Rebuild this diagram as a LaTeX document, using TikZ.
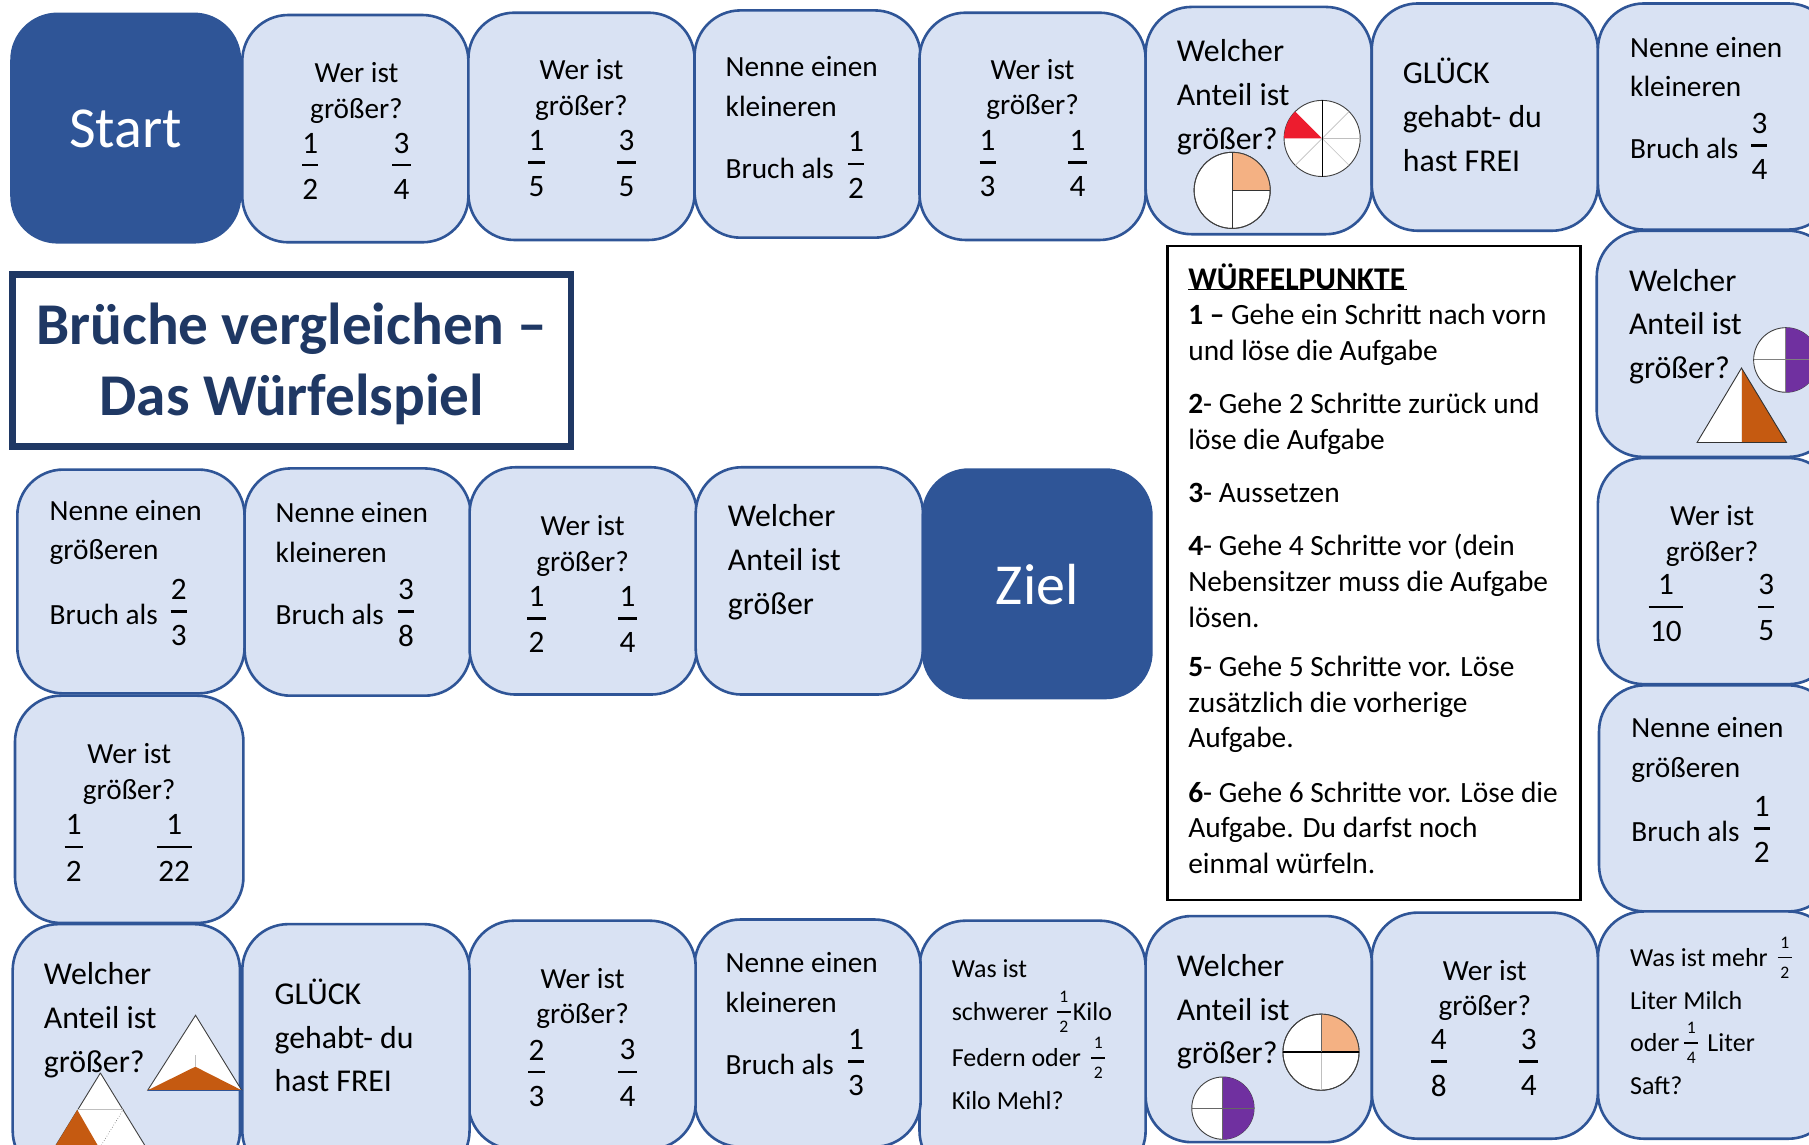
\documentclass[tikz,border=0pt]{standalone}
\usepackage{fontspec}
\setmainfont{Carlito}
\definecolor{tilefill}{HTML}{D9E2F3}
\definecolor{tileedge}{HTML}{2F5597}
\definecolor{navy}{HTML}{1F3864}
\definecolor{pieorange}{HTML}{F4B183}
\definecolor{triorange}{HTML}{C55A11}
\definecolor{piepurple}{HTML}{7030A0}
\definecolor{piered}{HTML}{ED1C2E}
\definecolor{spoke}{HTML}{BFBFBF}
\tikzset{
  x=0.5768pt,y=-0.5768pt,
  tilebox/.style={draw=tileedge,fill=tilefill,line width=1.3pt,rounded corners=23pt},
  darkbox/.style={draw=tileedge,fill=tileedge,line width=1.3pt,rounded corners=23pt},
  txt/.style={inner sep=0pt,outer sep=0pt,text=black},
  leftblock/.style={txt,anchor=west,align=left},
  midblock/.style={txt,anchor=center,align=center},
  piedisc/.style={draw=black!75,fill=white,line width=0.45pt},
  tridisc/.style={draw=black!75,fill=white,line width=0.45pt},
}
\newcommand{\fsM}{\fontsize{14.65pt}{19.8pt}\selectfont}% Nenne
\newcommand{\fsL}{\fontsize{15.9pt}{21.9pt}\selectfont}% Welcher, GLUECK
\newcommand{\fsW}{\fontsize{14.6pt}{17.9pt}\selectfont}% Wer ist
\newcommand{\fsS}{\fontsize{13pt}{21.3pt}\selectfont}% Was ist
\newcommand{\fsD}{\fontsize{14.7pt}{17.9pt}\selectfont}% dice list
\newcounter{fc}
% \frc{x}{bar y}{half gap}{bar half width}{num}{den}
\newcommand{\frc}[6]{\stepcounter{fc}%
  \node[txt,font=\bfseries\fontsize{15.6pt}{16pt}\mdseries\selectfont] (fn\thefc) at (#1,#2-#3+1) {#5};
  \node[txt,font=\fontsize{15.6pt}{16pt}\selectfont] (fd\thefc) at (#1,#2+#3+1) {#6};
  \draw[line width=1.3pt] (#1-#4,#2) -- (#1+#4,#2);}
\newcommand{\sfrc}[5]{\stepcounter{fc}%
  \node[txt,font=\fontsize{8.8pt}{9pt}\selectfont] (fn\thefc) at (#1,#2-13) {#4};
  \node[txt,font=\fontsize{8.8pt}{9pt}\selectfont] (fd\thefc) at (#1,#2+13) {#5};
  \draw[line width=0.8pt] (#1-#3,#2) -- (#1+#3,#2);}
\newcommand{\werist}[2]{\node[midblock,font=\fsW] (w\thefc) at (#1,#2+2.5) {Wer ist\\größer?};}
\newcommand{\welcher}[3]{\node[leftblock,font=\fsL] (#1) at (#2,#3+2) {Welcher\\Anteil ist\\größer?};}
\newcommand{\glueck}[3]{\node[leftblock,font=\fsL] (#1) at (#2,#3-1.5) {GLÜCK\\gehabt- du\\hast FREI};}
\newcommand{\nenne}[4]{\node[leftblock,font=\fsM] (#1a) at (#2,#3+1) {Nenne einen\\#4};
  \node[leftblock,font=\fsM] (#1b) at (#2,#3+72) {Bruch als};}
\begin{document}
\begin{tikzpicture}
\useasboundingbox (0,0) rectangle (1568,992.4);
\clip (0,0) rectangle (1568,992.4);
\fill[white] (0,0) rectangle (1568,992.4);
% top row
\draw[darkbox] (10,12) rectangle (208,210);
\foreach \a/\b/\c/\d in {210/13/406/210,406/11/602/208,602/9/798/206,797/11/993/208,993/6/1189/203,1189/3/1385/200,1385/3/1590/199,
  1384/200/1590/396,1385/397/1590/593,1386/594/1590/790,1385/790/1590/987,
  1189/791/1385/987,993/794/1189/990,797/798/993/1020,602/797/798/994,406/798/603/996,210/801/407/1020,11/801/208/1020,
  13/603/211/800,15/407/212/601,212/406/408/603,407/405/604/602,603/405/800/602}
  \draw[tilebox] (\a,\b) rectangle (\c,\d);
\draw[darkbox] (800,407) rectangle (998,605);
% Start, Ziel
\node[txt,text=white,font=\fontsize{29pt}{30pt}\selectfont] (start) at (109,112) {Start};
\node[txt,text=white,font=\fontsize{29pt}{30pt}\selectfont] (ziel) at (899,507) {Ziel};
% title
\draw[navy,line width=3.3pt,fill=white] (11,238) rectangle (495,387);
\node[midblock,text=navy,font=\fontsize{29.6pt}{35.8pt}\selectfont\bfseries] (title) at (253,315.5) {Brüche vergleichen –\\Das Würfelspiel};
% dice box
\draw[black,line width=1.1pt,fill=white] (1012,213) rectangle (1370,780);
\node[leftblock,font=\fontsize{15.8pt}{17pt}\selectfont\bfseries] (dh) at (1030,239.5) {WÜRFELPUNKTE};
\draw[black,line width=0.8pt] (1030,251) -- (1219.5,251);
\node[leftblock,font=\fsD] (d1) at (1030,290.5) {\textbf{1 –} Gehe ein Schritt nach vorn\\und löse die Aufgabe};
\node[leftblock,font=\fsD] (d2) at (1030,367) {\textbf{2}- Gehe 2 Schritte zurück und\\löse die Aufgabe};
\node[leftblock,font=\fsD] (d3) at (1030,427) {\textbf{3}- Aussetzen};
\node[leftblock,font=\fsD] (d4) at (1030,503.5) {\textbf{4}- Gehe 4 Schritte vor (dein\\Nebensitzer muss die Aufgabe\\lösen.};
\node[leftblock,font=\fsD] (d5) at (1030,610.5) {\textbf{5}- Gehe 5 Schritte vor. Löse\\zusätzlich die vorherige\\Aufgabe.};
\node[leftblock,font=\fsD] (d6) at (1030,717.5) {\textbf{6}- Gehe 6 Schritte vor. Löse die\\Aufgabe. Du darfst noch\\einmal würfeln.};
% top row text
\werist{309}{78}\frc{269}{143}{20}{7}{1}{2}\frc{348}{143}{20}{8}{3}{4}
\werist{504}{75.5}\frc{465}{141}{20}{7}{1}{5}\frc{543}{141}{20}{8}{3}{5}
\nenne{t3}{629}{74}{kleineren}\frc{742}{142}{20}{7}{1}{2}
\werist{895}{75}\frc{856}{141}{20}{7}{1}{3}\frc{934}{141}{20}{8}{1}{4}
\welcher{t5}{1020}{82}
\glueck{t6}{1216}{101}
\nenne{t7}{1413}{57}{kleineren}\frc{1525}{126}{20}{7}{3}{4}
% right column
\welcher{r1}{1412}{281}
\werist{1484}{462}\frc{1444}{526}{20}{15}{1}{10}\frc{1531}{526}{20}{7}{3}{5}
\nenne{r3}{1414}{649}{größeren}\frc{1527}{718}{20}{7}{1}{2}
\node[leftblock,font=\fsS] (r4a) at (1413,830) {Was ist mehr};
\sfrc{1547}{830}{6}{1}{2}
\node[leftblock,font=\fsS] (r4b) at (1413,867) {Liter Milch};
\node[leftblock,font=\fsS] (r4c) at (1413,904) {oder};
\sfrc{1466}{904}{6}{1}{4}
\node[leftblock,font=\fsS] (r4d) at (1480,904) {Liter};
\node[leftblock,font=\fsS] (r4e) at (1413,941) {Saft?};
% bottom row
\werist{1287}{856}\frc{1247}{920}{20}{7}{4}{8}\frc{1325}{920}{20}{8}{3}{4}
\welcher{b6}{1020}{875}
\node[leftblock,font=\fsS] (b5a) at (825,840) {Was ist};
\node[leftblock,font=\fsS] (b5b) at (825,877) {schwerer};
\sfrc{922}{877}{6}{1}{2}
\node[leftblock,font=\fsS] (b5c) at (930,877) {Kilo};
\node[leftblock,font=\fsS] (b5d) at (825,917) {Federn oder};
\sfrc{952}{917}{6}{1}{2}
\node[leftblock,font=\fsS] (b5e) at (825,954) {Kilo Mehl?};
\nenne{b4}{629}{850.5}{kleineren}\frc{742}{920}{20}{7}{1}{3}
\werist{505}{863}\frc{465}{929}{20}{7}{2}{3}\frc{544}{929}{20}{8}{3}{4}
\glueck{b2}{238}{899}
\welcher{b1}{38}{882}
% left and middle
\werist{112}{668}\frc{64}{734}{20}{8}{1}{2}\frc{151}{734}{20}{15}{1}{22}
\nenne{m1}{43}{460.5}{größeren}\frc{155}{530}{20}{7}{2}{3}
\nenne{m2}{239}{460.5}{kleineren}\frc{352}{530}{20}{7}{3}{8}
\werist{505}{470.5}\frc{465}{536}{20}{8}{1}{2}\frc{544}{536}{20}{8}{1}{4}
\node[leftblock,font=\fsL] (m4) at (631,487.5) {Welcher\\Anteil ist\\größer};
% red pie
\draw[piedisc] (1146,120) circle (33);
\fill[piered] (1146,120) -- (1113,120) arc[start angle=180,end angle=135,x radius=33,y radius=-33] -- cycle;
\draw[spoke,line width=0.3pt] (1146,120) -- (1169.3,96.7) (1146,120) -- (1169.3,143.3) (1146,120) -- (1122.7,143.3);
\draw[spoke,line width=0.8pt] (1146,120) -- (1179,120);
\draw[black,line width=0.45pt] (1146,87) -- (1146,153);
% orange pie top
\draw[piedisc] (1068,165) circle (33);
\fill[pieorange] (1068,165) -- (1101,165) arc[start angle=0,end angle=-90,x radius=33,y radius=33] -- cycle;
\draw[piedisc,fill=none] (1068,165) circle (33);
\draw[black!80,line width=0.45pt] (1068,132) -- (1068,198) (1068,165) -- (1101,165);
% right column purple pie and triangle
\draw[piedisc] (1548,312) circle (28);
\fill[piepurple] (1548,284) arc[start angle=90,end angle=-90,x radius=28,y radius=-28] -- cycle;
\draw[black!50,line width=0.5pt] (1520,312) -- (1576,312) (1548,284) -- (1548,340);
\fill[triorange] (1509.5,319) -- (1548.5,383.5) -- (1509.5,383.5) -- cycle;
\fill[white] (1509.5,319) -- (1471,383.5) -- (1509.5,383.5) -- cycle;
\draw[black!80,line width=0.45pt] (1509.5,319) -- (1548.5,383.5) -- (1471,383.5) -- cycle;
% bottom-left triangles
\draw[tridisc] (169.5,880) -- (209.5,945) -- (128,945) -- cycle;
\fill[triorange] (128,945) -- (169.3,924.6) -- (209.5,945) -- cycle;
\draw[spoke,line width=0.3pt] (169.3,924.6) -- (169.3,914);
\draw[tileedge,line width=0.5pt] (128,945) -- (209.5,945);
\fill[white] (87,930) -- (130,1000) -- (44,1000) -- cycle;
\draw[black!75,line width=0.45pt] (87,930) -- (130,1000) (87,930) -- (44,1000);
\fill[triorange] (67,962) -- (47,995) -- (86,995) -- cycle;
\draw[spoke,line width=0.8pt] (67,961.5) -- (107,961.5);
\draw[black!60,line width=0.3pt,densely dotted] (107,961.5) -- (87,994);
% bottom pies
\draw[piedisc] (1145,912) circle (33);
\fill[pieorange] (1145,912) -- (1178,912) arc[start angle=0,end angle=-90,x radius=33,y radius=33] -- cycle;
\draw[piedisc,fill=none] (1145,912) circle (33);
\draw[spoke,line width=0.5pt] (1145,912) -- (1145,945);
\draw[black,line width=0.7pt] (1112,912) -- (1178,912);
\draw[black!60,line width=0.45pt] (1145,879) -- (1145,912);
\draw[piedisc] (1060,960.5) circle (27);
\fill[piepurple] (1060,933.5) arc[start angle=90,end angle=-90,x radius=27,y radius=-27] -- cycle;
\draw[black!60,line width=0.5pt] (1033,960.5) -- (1087,960.5) (1060,933.5) -- (1060,987.5);
\end{tikzpicture}
\end{document}
